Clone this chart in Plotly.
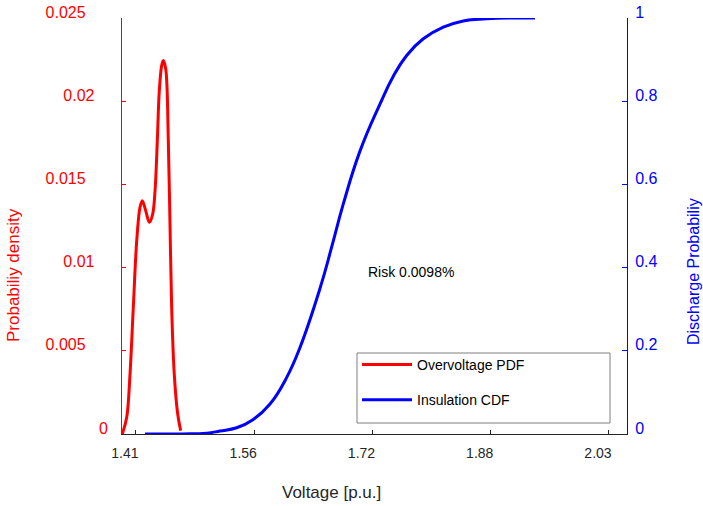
import plotly.graph_objects as go

# Overvoltage PDF
pdf_v = [1.3921, 1.3979, 1.4022, 1.4065, 1.4110, 1.4153, 1.4183, 1.4228, 1.4275,
         1.4319, 1.4350, 1.4380, 1.4406, 1.4437, 1.4458, 1.4490, 1.4524, 1.4546,
         1.4568, 1.4602, 1.4647, 1.4686]
pdf_y = [0.0, 0.0010, 0.0036, 0.0076, 0.01162, 0.01362, 0.01402, 0.01342, 0.01272,
         0.01322, 0.01462, 0.01763, 0.02063, 0.02214, 0.02244, 0.02194, 0.01763,
         0.01262, 0.0076, 0.0036, 0.0012, 0.0002]

# Insulation CDF
cdf_v = [1.4218, 1.47, 1.5027, 1.5201, 1.5420, 1.5638, 1.5857, 1.6076, 1.6250,
         1.6512, 1.6669, 1.6813, 1.7036, 1.7298, 1.7473, 1.7648, 1.7866, 1.8128,
         1.8390, 1.8697, 1.90, 1.933]
cdf_y = [0.0, 0.0002, 0.002, 0.0072, 0.015, 0.035, 0.072, 0.136, 0.208,
         0.350, 0.452, 0.550, 0.68, 0.793, 0.86, 0.91, 0.95, 0.978,
         0.993, 0.998, 1.0, 1.0]

x_tickvals = [1.41, 1.565, 1.72, 1.875, 2.03]
x_ticktext = ["1.41", "1.56", "1.72", "1.88", "2.03"]
y1_tickvals = [0, 0.005, 0.01, 0.015, 0.02, 0.025]
y1_ticktext = ["0", "0.005", "0.01", "0.015", "0.02", "0.025"]
y2_tickvals = [0, 0.2, 0.4, 0.6, 0.8, 1]
y2_ticktext = ["0", "0.2", "0.4", "0.6", "0.8", "1"]

NB = "\u00a0"
pad = {"0": 0, "0.005": 5, "0.01": 3, "0.015": 5, "0.02": 3, "0.025": 5}
y1_ticktext_padded = [t + NB * pad[t] for t in y1_ticktext]

FONT = "Liberation Sans, Arial, sans-serif"
DARK = "#262626"
RED = "#ff0000"
BLUE = "#0000ff"

fig = go.Figure()
fig.add_trace(go.Scatter(x=pdf_v, y=pdf_y, mode="lines", name="Overvoltage PDF",
                         line=dict(color=RED, width=3, shape="spline", smoothing=1.0),
                         yaxis="y", legendgroup="a"))
fig.add_trace(go.Scatter(x=cdf_v, y=cdf_y, mode="lines", name="Insulation CDF",
                         line=dict(color=BLUE, width=3, shape="spline", smoothing=1.3),
                         yaxis="y2", legendgroup="b"))

W, H = 703, 506
L, R, T, B = 122, 76, 18, 72
pw, ph = W - L - R, H - T - B

def px(xp):
    return (xp - L) / pw

def py(yp):
    return (H - B - yp) / ph

fig.update_layout(
    template="none",
    width=W, height=H,
    margin=dict(l=L, r=R, t=T, b=B, pad=0, autoexpand=False),
    paper_bgcolor="white", plot_bgcolor="white",
    font=dict(family=FONT, size=14, color=DARK),
    showlegend=True,
    legend=dict(x=px(357), y=py(349), xanchor="left", yanchor="top",
                bgcolor="rgba(0,0,0,0)", borderwidth=0,
                font=dict(size=14, color="#000000"),
                traceorder="grouped", tracegroupgap=14, itemwidth=50),
    xaxis=dict(range=[1.3917, 2.0536], tickvals=x_tickvals, ticktext=x_ticktext,
               automargin=False,
               showgrid=False, zeroline=False, showline=True, linecolor=DARK, linewidth=1,
               ticks="inside", ticklen=4, tickcolor=DARK,
               tickfont=dict(size=14, color=DARK),
               ticklabelstandoff=6, ticklabelshift=-11),
    yaxis=dict(range=[0, 0.025], tickvals=y1_tickvals, ticktext=y1_ticktext_padded,
               automargin=False,
               showgrid=False, zeroline=False, showline=True, linecolor=RED, linewidth=1,
               ticks="inside", ticklen=4, tickcolor=RED,
               tickfont=dict(size=16, color=RED),
               ticklabelstandoff=10, ticklabelshift=-6),
    yaxis2=dict(range=[0, 1], tickvals=y2_tickvals, ticktext=y2_ticktext,
                overlaying="y", side="right", anchor="x", automargin=False,
                showgrid=False, zeroline=False, showline=True, linecolor=BLUE, linewidth=1,
                ticks="inside", ticklen=5, tickcolor=BLUE,
                tickfont=dict(size=16, color=BLUE),
                ticklabelstandoff=4, ticklabelshift=-6),
    shapes=[dict(type="rect", xref="paper", yref="paper",
                 x0=px(357), x1=px(610), y0=py(423), y1=py(353),
                 line=dict(color="#7f7f7f", width=1), fillcolor="rgba(0,0,0,0)")],
    annotations=[
        dict(text="Risk 0.0098%", x=1.7705, y=0.39, xref="x", yref="y2",
             xanchor="center", yanchor="middle",
             showarrow=False, font=dict(size=14, color="#000000")),
        dict(text="Probabiliy density", x=px(13), y=py(275), xref="paper", yref="paper",
             xanchor="center", yanchor="middle",
             textangle=-90, showarrow=False, font=dict(size=17, color=RED)),
        dict(text="Discharge Probabiliy", x=px(693), y=py(272), xref="paper", yref="paper",
             xanchor="center", yanchor="middle",
             textangle=-90, showarrow=False, font=dict(size=16, color=BLUE)),
        dict(text="Voltage [p.u.]", x=px(331), y=py(492), xref="paper", yref="paper",
             xanchor="center", yanchor="middle",
             showarrow=False, font=dict(size=17, color=DARK)),
    ],
)

fig.write_html("out.html", config={"displayModeBar": False},
               post_script="document.body.style.margin='0';")
